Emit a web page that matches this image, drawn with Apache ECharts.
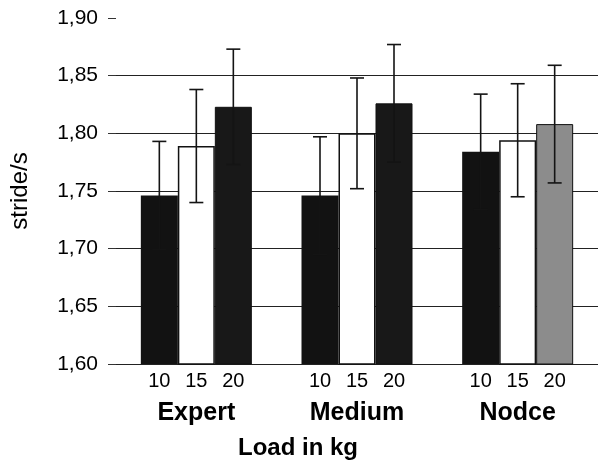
<!DOCTYPE html>
<html lang="en">
<head>
  <meta charset="UTF-8">
  <title>stride/s</title>
  <script src="https://cdn.jsdelivr.net/npm/echarts@6/dist/echarts.min.js"></script>
</head>
<body style="margin:0;background:#fff;">
  <div id="main" style="width:598px;height:464px;"></div>
  <script>
    // data
    const groups = ['Expert', 'Medium', 'Nodce'];
    const loads = ['10', '15', '20'];
    const mean10 = [1.746, 1.746, 1.784];
    const mean15 = [1.789, 1.800, 1.794];
    const mean20 = [1.823, 1.826, 1.808];
    const err10 = [0.047, 0.051, 0.050];
    const err15 = [0.049, 0.048, 0.049];
    const err20 = [0.050, 0.051, 0.051];

    const means = [mean10, mean15, mean20];
    const errs = [err10, err15, err20];
    const barW = 37;
    const font = 'Liberation Sans, Arial, sans-serif';

    var myChart = echarts.init(document.getElementById('main'));

    // error bar points: [group, low, high, load index]
    const errData = [];
    means.forEach((m, s) => {
      m.forEach((v, g) => {
        errData.push([g, v - errs[s][g], v + errs[s][g], s]);
      });
    });

    const barStyles = [
      { color: '#121212' },
      { color: '#fff', borderColor: '#111', borderWidth: 1.5 },
      { color: '#181818', borderColor: '#111', borderWidth: 1 }
    ];

    const barSeries = loads.map((name, s) => ({
      name: name,
      type: 'bar',
      barWidth: barW,
      barGap: '0%',
      z: 3,
      itemStyle: barStyles[s],
      data: means[s].map((v, g) => {
        // Nodce 20 kg bar is a lighter stipple
        if (s === 2 && g === 2) return { value: v, itemStyle: { color: '#8c8c8c' } };
        return v;
      }),
      label: {
        show: true,
        position: 'bottom',
        distance: 7,
        formatter: name,
        fontFamily: font,
        fontSize: 20,
        color: '#000'
      }
    }));

    const option = {
      animation: false,
      grid: { left: 116, right: 0, top: 18, bottom: 100 },
      xAxis: {
        type: 'category',
        data: groups,
        axisLine: { lineStyle: { color: '#222', width: 1.2 } },
        axisTick: { length: 8, lineStyle: { color: '#222' } },
        axisLabel: {
          margin: 37,
          fontFamily: font,
          fontSize: 25,
          fontWeight: 'bold',
          color: '#000'
        }
      },
      yAxis: {
        type: 'value',
        min: 1.6,
        max: 1.9,
        interval: 0.05,
        name: 'stride/s',
        nameLocation: 'middle',
        nameGap: 84,
        nameTextStyle: { fontFamily: font, fontSize: 24, color: '#000' },
        axisLine: { show: false },
        axisTick: { show: true, length: 8, lineStyle: { color: '#333' } },
        axisLabel: {
          margin: 18,
          fontFamily: font,
          fontSize: 21,
          color: '#000',
          formatter: v => v.toFixed(2).replace('.', ',')
        },
        splitLine: {
          lineStyle: {
            width: 1.2,
            color: ['#222', '#222', '#222', '#222', '#222', '#222', 'rgba(0,0,0,0)']
          }
        }
      },
      graphic: [{
        type: 'text',
        left: 238,
        top: 436,
        style: {
          text: 'Load in kg',
          fontFamily: font,
          fontSize: 24,
          fontWeight: 'bold',
          fill: '#000'
        }
      }],
      series: barSeries.concat([{
        type: 'custom',
        z: 5,
        data: errData,
        renderItem: function (params, api) {
          const g = api.value(0);
          const s = api.value(3);
          const lo = api.coord([g, api.value(1)]);
          const hi = api.coord([g, api.value(2)]);
          const x = lo[0] + (s - 1) * barW;
          const cap = 7;
          const st = { stroke: '#141414', lineWidth: 1.6 };
          return {
            type: 'group',
            children: [
              { type: 'line', shape: { x1: x, y1: lo[1], x2: x, y2: hi[1] }, style: st },
              { type: 'line', shape: { x1: x - cap, y1: hi[1], x2: x + cap, y2: hi[1] }, style: st },
              { type: 'line', shape: { x1: x - cap, y1: lo[1], x2: x + cap, y2: lo[1] }, style: st }
            ]
          };
        }
      }])
    };

    myChart.setOption(option);
  </script>
</body>
</html>
